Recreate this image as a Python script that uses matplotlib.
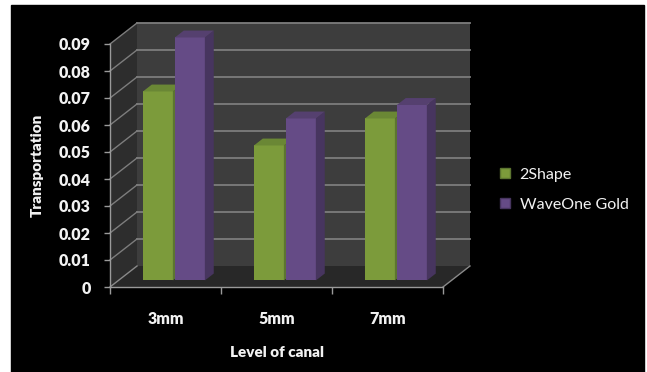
import numpy as np
import matplotlib.pyplot as plt
from matplotlib.patches import Polygon, Rectangle
from matplotlib.lines import Line2D

# data
categories = ['3mm', '5mm', '7mm']
series_names = ['2Shape', 'WaveOne Gold']
shape2 = [0.07, 0.05, 0.06]
waveone = [0.09, 0.06, 0.065]
yticks = [0, 0.01, 0.02, 0.03, 0.04, 0.05, 0.06, 0.07, 0.08, 0.09]

front_colors = ['#7c9b3b', '#654b86']
side_colors = ['#5c7530', '#47355f']
top_colors = ['#6a8735', '#55406f']

DEPTH = np.array([0.27, 0.21])  # oblique depth offset in inches
BAR_D0, BAR_D1 = 0.31, 0.64     # depth range occupied by bars
TXT = '#f2f2f2'
FONT = ['Lato', 'DejaVu Sans']

fig = plt.figure(figsize=(6.47, 3.72), dpi=100)
fig.patch.set_facecolor('white')
# black panel with a thin white frame
fig.add_artist(Rectangle((11 / 647, 0), 633 / 647, 367 / 372,
                         transform=fig.transFigure, color='black', zorder=-5))

ax = fig.add_axes([110 / 647, 85 / 372, 333 / 647, 243 / 372])
ax.set_facecolor('none')
ax.set_xlim(-0.5, 2.5)
ax.set_ylim(0, 0.09)
fig.canvas.draw()


def proj(x, y, d):
    px, py = ax.transData.transform((x, y))
    return (px / fig.dpi + d * DEPTH[0], py / fig.dpi + d * DEPTH[1])


def poly(pts, color, z):
    p = Polygon(pts, closed=True, facecolor=color, edgecolor='none',
                transform=fig.dpi_scale_trans, clip_on=False, zorder=z)
    ax.add_artist(p)


def line(p0, p1, color='#8a8a8a', lw=1.2, z=0.5):
    ax.add_artist(Line2D([p0[0], p1[0]], [p0[1], p1[1]], color=color, lw=lw,
                         transform=fig.dpi_scale_trans, clip_on=False, zorder=z))


x0, x1 = -0.5, 2.5
ymax = yticks[-1]
# walls and floor
poly([proj(x0, 0, 1), proj(x1, 0, 1), proj(x1, ymax, 1), proj(x0, ymax, 1)], '#3d3d3d', 0.1)
poly([proj(x0, 0, 0), proj(x0, 0, 1), proj(x0, ymax, 1), proj(x0, ymax, 0)], '#2d2d2d', 0.1)
poly([proj(x0, 0, 0), proj(x1, 0, 0), proj(x1, 0, 1), proj(x0, 0, 1)], '#282828', 0.15)

# gridlines on back and side wall
for t in yticks[1:]:
    line(proj(x0, t, 1), proj(x1, t, 1), color='#7d7d7d', lw=1.3)
    line(proj(x0, t, 0), proj(x0, t, 1), color='#7d7d7d', lw=1.0)
line(proj(x0, 0, 0), proj(x0, 0, 1), color='#8a8a8a', lw=1.0)
line(proj(x1, 0, 0), proj(x1, 0, 1), color='#8a8a8a', lw=1.0)

# 3D bars
width = 0.27
gap = 0.009
for i in range(len(categories)):
    for k, vals in enumerate([shape2, waveone]):
        left = i - width - gap if k == 0 else i + gap
        right = left + width
        v = vals[i]
        z = 1 + k * 0.1 + i * 0.01
        # front face
        poly([proj(left, 0, BAR_D0), proj(right, 0, BAR_D0),
              proj(right, v, BAR_D0), proj(left, v, BAR_D0)], front_colors[k], z)
        # side face
        poly([proj(right, 0, BAR_D0), proj(right, 0, BAR_D1),
              proj(right, v, BAR_D1), proj(right, v, BAR_D0)], side_colors[k], z)
        # top face
        poly([proj(left, v, BAR_D0), proj(right, v, BAR_D0),
              proj(right, v, BAR_D1), proj(left, v, BAR_D1)], top_colors[k], z)

# axes styling
for s in ['top', 'right']:
    ax.spines[s].set_visible(False)
for s in ['left', 'bottom']:
    ax.spines[s].set_color('#9a9a9a')
    ax.spines[s].set_linewidth(1.0)

ax.set_yticks(yticks)
ax.set_yticklabels(['0' if t == 0 else f'{t:.2f}' for t in yticks])
ax.set_xticks(range(len(categories)))
ax.set_xticklabels(categories)
ax.set_xticks([-0.5, 0.5, 1.5, 2.5], minor=True)
ax.tick_params(axis='y', colors='#9a9a9a', length=4, width=1.0, pad=10,
               labelcolor=TXT, labelsize=11.5)
ax.tick_params(axis='x', which='major', length=0, pad=17, labelcolor=TXT, labelsize=11.5)
ax.tick_params(axis='x', which='minor', length=5, width=1.0, colors='#9a9a9a')
for lab in ax.get_yticklabels() + ax.get_xticklabels():
    lab.set_fontweight('heavy')
    lab.set_family(FONT)

ax.set_xlabel('Level of canal', color=TXT, fontsize=11, fontweight='heavy',
              labelpad=14, family=FONT)
ax.set_ylabel('Transportation', color=TXT, fontsize=11, fontweight='heavy',
              labelpad=11, family=FONT)

# legend
handles = [Rectangle((0, 0), 1, 1, facecolor=front_colors[k], edgecolor=side_colors[k])
           for k in range(2)]
leg = fig.legend(handles, series_names, loc='center left',
                 bbox_to_anchor=(486 / 647, 1 - 190 / 372), frameon=False,
                 labelcolor=TXT, handlelength=0.6, handleheight=0.6,
                 handletextpad=0.6, labelspacing=1.0, prop={'family': FONT, 'size': 11.5})

fig.savefig('out.png', dpi=100, facecolor=fig.get_facecolor())
